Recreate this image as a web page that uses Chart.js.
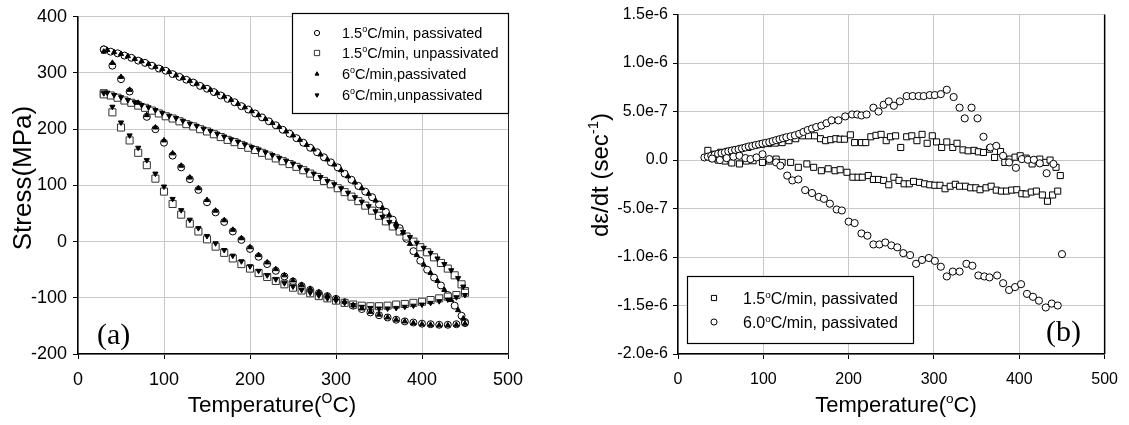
<!DOCTYPE html>
<html>
<head>
<meta charset="UTF-8">
<title>Stress and strain rate vs temperature</title>
<script src="https://cdn.jsdelivr.net/npm/chart.js"></script>
<style>
  body { margin: 0; background: #fff; }
  canvas { position: absolute; top: 0; }
</style>
</head>
<body>
<canvas id="chartA" width="560" height="425" style="left:0"></canvas>
<canvas id="chartB" width="569" height="425" style="left:560px"></canvas>
<script>
// ---------- (a) stress vs temperature, MPa ----------
const upperT = [30,38,46,54,62,70,78,86,94,102,110,118,126,134,142,150,158,166,174,182,190,198,206,214,222,230,238,246,254,262,270,278,286,294,302,310,318,326,334,342,350,358,366,374,382,390,398,406,414,422,430,438,446,450];
const upperTfast = [34,42,50,58,66,74,82,90,98,106,114,122,130,138,146,154,162,170,178,186,194,202,210,218,226,234,242,250,258,266,274,282,290,298,306,314,322,330,338,346,354,362,370,378,386,394,402,410,418,426,434,442,448];
const lowerT = [30,40,50,60,70,80,90,100,110,120,130,140,150,160,170,180,190,200,210,220,230,240,250,260,270,280,290,300,310,320,330,340,350,360,370,380,390,400,410,420,430,440,450];

const slowPassUpper = [342,338,335,331,327,322,318,313,308,304,298,293,288,283,277,272,266,260,254,248,241,235,228,221,214,207,199,192,184,176,167,159,150,141,132,121,110,99,89,79,66,53,39,24,5,-17,-34,-50,-64,-78,-95,-114,-132,-143];
const slowPassLower = [342,313,289,267,244,222,200,176,153,132,111,92,70,52,35,18,3,-13,-27,-40,-52,-62,-71,-79,-86,-92,-97,-102,-108,-114,-120,-126,-131,-135,-139,-142,-144,-146,-147,-148,-148,-147,-145];
const slowUnpUpper = [264,260,256,251,247,242,238,233,228,223,219,214,209,205,200,196,191,186,181,177,172,167,163,158,153,148,143,138,133,127,121,115,108,102,95,88,80,72,64,55,46,36,27,18,9,0,-10,-19,-28,-38,-48,-60,-76,-88];
const slowUnpLower = [262,230,203,180,158,136,112,89,67,48,32,18,4,-9,-20,-30,-40,-48,-56,-63,-70,-76,-82,-87,-92,-97,-101,-105,-109,-112,-114,-115,-115,-114,-112,-111,-109,-107,-104,-101,-98,-95,-91];
const fastPassUpper = [341,337,334,330,325,321,316,311,307,302,296,291,286,281,275,270,264,258,252,245,239,232,225,218,211,204,196,189,181,172,164,155,146,137,127,116,105,95,85,73,60,47,32,16,-4,-24,-41,-56,-70,-86,-104,-122,-137];
const fastPassLower = [338,318,293,270,247,225,203,180,157,135,114,95,74,55,38,21,6,-10,-24,-37,-49,-60,-69,-77,-84,-90,-96,-101,-107,-113,-119,-125,-130,-135,-139,-142,-145,-147,-148,-149,-149,-148,-146];
const fastUnpUpper = [265,261,257,252,248,243,239,234,229,224,220,215,210,206,201,197,192,187,182,178,173,168,164,159,154,149,144,139,133,127,121,115,108,102,95,87,79,71,63,54,44,35,26,17,8,-2,-11,-20,-30,-40,-51,-65,-80];
const fastUnpLower = [264,240,212,189,167,145,121,98,76,56,39,24,10,-3,-15,-25,-35,-44,-52,-60,-67,-74,-80,-86,-91,-96,-101,-105,-109,-113,-116,-118,-119,-119,-118,-116,-114,-112,-109,-106,-103,-99,-95];

const labelsA = ['1.5|C/min, passivated', '1.5|C/min, unpassivated', '6|C/min,passivated', '6|C/min,unpassivated'];

// ---------- (b) strain rate vs temperature, units of 1e-7 1/s ----------
const sqUpT = [35,42,50,58,66,74,82,90,98,106,114,122,130,138,146,153,160,167,173,179,185,190,195,202,207,215,220,226,232,238,244,249,255,261,268,274,280,286,292,298,303,309,315,322,327,334,340,347,352,358,365,371,378,383,389,395,401,408,415,424,431,436,443,448];
const sqUpV = [1.0,0.6,0.8,0.9,1.0,1.2,1.3,1.5,1.6,1.7,1.75,1.8,2.0,2.2,2.5,2.5,2.5,2.2,2.0,2.1,2.2,2.15,2.15,2.6,1.8,1.8,1.8,2.4,2.55,2.65,2.0,2.4,2.5,1.3,2.4,2.5,2.0,2.65,1.73,2.5,1.87,1.3,1.87,1.3,1.73,1.05,0.95,1.0,0.85,0.78,1.12,0.27,0.88,-0.24,0.1,0.3,0.44,0.2,-0.4,0.1,-0.24,0,-0.75,-1.6];
const sqLowT = [40,47,55,63,72,80,88,99,107,115,122,132,141,151,159,168,176,184,190,198,205,211,216,223,229,235,241,247,253,259,265,271,276,283,289,295,301,307,313,319,325,330,337,343,349,354,361,367,373,379,385,391,397,403,408,414,420,427,433,439,445];
const sqLowV = [0.2,0.0,-0.1,-0.3,-0.4,-0.1,-0.07,-0.24,-0.1,0.1,-0.24,-0.24,-0.75,-0.4,-0.75,-1.1,-0.9,-1.1,-1.0,-1.26,-1.77,-1.77,-1.77,-1.6,-2.0,-2.0,-2.1,-2.55,-1.77,-2.1,-2.45,-2.45,-2.2,-2.3,-2.45,-2.55,-2.6,-2.6,-2.96,-2.7,-2.5,-2.7,-2.7,-2.86,-2.86,-3.06,-2.86,-2.7,-3.1,-3.2,-3.2,-3.1,-3.06,-3.47,-3.5,-3.3,-3.2,-3.6,-4.25,-3.6,-3.2];
const ciUpT = [31,35,39,43,47,51,55,59,63,67,71,75,79,83,87,91,95,99,103,107,111,115,119,123,127,132,137,142,147,152,157,162,168,174,180,188,196,204,210,215,221,229,235,241,247,253,260,268,275,282,288,295,301,308,315,323,330,336,344,351,358,366,373,381,388,396,403,410,417,424,432,440];
const ciUpV = [0.27,0.35,0.45,0.55,0.65,0.72,0.8,0.9,0.98,1.05,1.12,1.2,1.3,1.4,1.45,1.55,1.62,1.7,1.78,1.85,1.95,2.05,2.15,2.25,2.35,2.45,2.55,2.7,2.9,3.1,3.25,3.4,3.55,3.8,4.1,4.1,4.5,4.7,4.7,4.6,4.7,5.4,5.0,5.7,6.05,5.6,6.05,6.6,6.6,6.6,6.6,6.7,6.7,6.8,7.25,6.5,5.4,4.3,5.4,4.3,2.4,1.3,1.46,0.44,-0.24,-0.8,0.1,0.03,0.03,-0.34,-1.36,-0.4];
const ciLowT = [40,49,57,65,72,79,85,92,99,107,115,120,128,134,141,149,157,165,171,178,186,192,200,207,215,222,229,236,243,250,257,264,272,279,286,294,301,308,315,322,330,338,345,352,359,365,374,381,388,395,402,409,416,423,431,438,445,450];
const ciLowV = [0.15,0.0,0.2,0.35,0.44,0.2,0.1,0.27,0.6,0.1,-0.24,-0.58,-1.6,-2.1,-2.0,-3.1,-3.4,-3.8,-4.0,-4.5,-5.1,-5.2,-6.35,-6.5,-7.57,-7.8,-8.7,-8.7,-8.5,-8.8,-9.0,-9.6,-9.8,-10.7,-10.3,-10.1,-10.4,-11.0,-12.0,-11.5,-11.5,-10.7,-10.9,-11.9,-12.0,-12.1,-11.9,-12.7,-13.4,-13.1,-12.8,-13.8,-14.1,-14.5,-15.2,-14.8,-15.0,-9.7];

const yTicksB = [-20,-15,-10,-5,0,5,10,15];
const yTickLabelsB = ['-2.0e-6','-1.5e-6','-1.0e-6','-5.0e-7','0.0','5.0e-7','1.0e-6','1.5e-6'];
const labelsB = ['1.5|C/min, passivated', '6.0|C/min, passivated'];

const SANS = '"Liberation Sans", Arial, sans-serif';
const SERIF = '"Liberation Serif", "Times New Roman", serif';

function pts(xs, ys) { return xs.map((x, i) => ({ x: x, y: ys[i] })); }

// text with superscript pieces: parts = [[text, isSup], ...]
function rich(ctx, parts, x, y, size, align) {
  let w = 0;
  parts.forEach(p => {
    ctx.font = (p[1] ? size * 0.62 : size) + 'px ' + SANS;
    w += ctx.measureText(p[0]).width;
  });
  let cx = align === 'center' ? x - w / 2 : x;
  ctx.textAlign = 'left';
  ctx.textBaseline = 'alphabetic';
  parts.forEach(p => {
    const s = p[1] ? size * 0.62 : size;
    ctx.font = s + 'px ' + SANS;
    ctx.fillText(p[0], cx, p[1] ? y - size * 0.4 : y);
    cx += ctx.measureText(p[0]).width;
  });
}

// "1.5|C/min" -> 1.5 + superscript o + C/min
function degParts(label) {
  const s = label.split('|');
  return [[s[0], 0], ['o', 1], [s[1], 0]];
}

function axisCommon(size, pad) {
  return {
    type: 'linear',
    ticks: { color: '#000', font: { family: SANS, size: size }, padding: pad, maxRotation: 0 },
    grid: { color: '#c8c8c8', lineWidth: 1, tickLength: 5, tickColor: '#000' },
    border: { color: '#000', width: 1.5 }
  };
}

const markA = [
  { pointStyle: 'circle', radius: 3.5, rotation: 0, bg: '#fff', fg: '#000' },
  { pointStyle: 'rect', radius: 5, rotation: 0, bg: '#fff', fg: '#333' },
  { pointStyle: 'triangle', radius: 3, rotation: 0, bg: '#000', fg: '#000' },
  { pointStyle: 'triangle', radius: 3, rotation: 180, bg: '#000', fg: '#000' }
];
const seriesA = [
  pts(upperT, slowPassUpper).concat(pts(lowerT, slowPassLower)),
  pts(upperT, slowUnpUpper).concat(pts(lowerT, slowUnpLower)),
  pts(upperTfast, fastPassUpper).concat(pts(lowerT, fastPassLower)),
  pts(upperTfast, fastUnpUpper).concat(pts(lowerT, fastUnpLower))
];

const decorA = {
  id: 'decorA',
  afterDraw(chart) {
    const ctx = chart.ctx, a = chart.chartArea;
    ctx.save();
    ctx.strokeStyle = '#222'; ctx.lineWidth = 1;
    ctx.beginPath(); ctx.moveTo(a.right + 0.5, a.top); ctx.lineTo(a.right + 0.5, a.bottom); ctx.stroke();
    // legend box
    ctx.fillStyle = '#fff';
    ctx.fillRect(292, 13, a.right - 292, 100);
    ctx.strokeStyle = '#000'; ctx.lineWidth = 1.2;
    ctx.strokeRect(292.5, 13.5, a.right - 292, 100);
    const rows = [33, 53, 74, 95];
    labelsA.forEach((lab, i) => {
      const m = markA[i];
      ctx.fillStyle = m.bg; ctx.strokeStyle = m.fg; ctx.lineWidth = 1;
      Chart.helpers.drawPoint(ctx, { pointStyle: m.pointStyle, radius: m.radius * 0.75, rotation: m.rotation, borderWidth: 1 }, 317, rows[i]);
      ctx.fillStyle = '#000';
      rich(ctx, degParts(lab), 342, rows[i] + 5, 14.5, 'left');
    });
    ctx.fillStyle = '#000';
    ctx.font = '30px ' + SERIF; ctx.textAlign = 'left'; ctx.textBaseline = 'alphabetic';
    ctx.fillText('(a)', 97, 344);
    rich(ctx, [['Temperature(', 0], ['O', 1], ['C)', 0]], 272, 412, 22.5, 'center');
    ctx.translate(31, 178); ctx.rotate(-Math.PI / 2);
    rich(ctx, [['Stress(MPa)', 0]], 0, 0, 26, 'center');
    ctx.restore();
  }
};

const xA = axisCommon(18, 10); xA.min = 0; xA.max = 500; xA.ticks.stepSize = 100;
xA.afterFit = s => { s.height = 71; };
const yA = axisCommon(18, 6); yA.min = -200; yA.max = 400; yA.ticks.stepSize = 100;
yA.afterFit = s => { s.width = 78; };

new Chart(document.getElementById('chartA'), {
  type: 'scatter',
  data: {
    datasets: seriesA.map((d, i) => ({
      label: labelsA[i], data: d, showLine: false,
      pointStyle: markA[i].pointStyle, pointRadius: markA[i].radius, pointRotation: markA[i].rotation,
      backgroundColor: markA[i].bg, borderColor: markA[i].fg, borderWidth: 1, order: 4 - i
    }))
  },
  options: {
    responsive: false, animation: false, events: [],
    layout: { padding: { left: 0, top: 13, right: 52, bottom: 0 } },
    plugins: { legend: { display: false }, tooltip: { enabled: false } },
    scales: { x: xA, y: yA }
  },
  plugins: [decorA]
});

const markB = [
  { pointStyle: 'rect', radius: 4.3, bg: '#fff', fg: '#000' },
  { pointStyle: 'circle', radius: 3.6, bg: '#fff', fg: '#000' }
];
const seriesB = [
  pts(sqUpT, sqUpV).concat(pts(sqLowT, sqLowV)),
  pts(ciUpT, ciUpV).concat(pts(ciLowT, ciLowV))
];

const decorB = {
  id: 'decorB',
  afterDraw(chart) {
    const ctx = chart.ctx, a = chart.chartArea;
    const ox = 560; // canvas offset in the page
    ctx.save();
    ctx.strokeStyle = '#000'; ctx.lineWidth = 1.5;
    ctx.beginPath(); ctx.moveTo(a.right, a.top); ctx.lineTo(a.right, a.bottom); ctx.stroke();
    ctx.fillStyle = '#fff';
    ctx.fillRect(687 - ox, 276, 226, 67);
    ctx.strokeStyle = '#000'; ctx.lineWidth = 1.2;
    ctx.strokeRect(687.5 - ox, 276.5, 226, 67);
    const rows = [298, 322];
    labelsB.forEach((lab, i) => {
      const m = markB[i];
      ctx.fillStyle = m.bg; ctx.strokeStyle = m.fg; ctx.lineWidth = 1;
      Chart.helpers.drawPoint(ctx, { pointStyle: m.pointStyle, radius: m.radius * 0.85, rotation: 0, borderWidth: 1 }, 714 - ox, rows[i]);
      ctx.fillStyle = '#000';
      rich(ctx, degParts(lab), 743 - ox, rows[i] + 6, 16, 'left');
    });
    ctx.fillStyle = '#000';
    ctx.font = '30px ' + SERIF; ctx.textAlign = 'left'; ctx.textBaseline = 'alphabetic';
    ctx.fillText('(b)', 1046 - ox, 341);
    rich(ctx, [['Temperature(', 0], ['o', 1], ['C)', 0]], 896 - ox, 412, 22, 'center');
    ctx.translate(608 - ox, 175); ctx.rotate(-Math.PI / 2);
    rich(ctx, [['d\u03b5/dt (sec', 0], ['-1', 1], [')', 0]], 0, 0, 24, 'center');
    ctx.restore();
  }
};

const xB = axisCommon(16, 11); xB.min = 0; xB.max = 500; xB.ticks.stepSize = 100;
xB.afterFit = s => { s.height = 71; };
const yB = axisCommon(16, 5); yB.min = -20; yB.max = 15; yB.ticks.stepSize = 5;
yB.ticks.callback = v => yTickLabelsB[yTicksB.indexOf(v)];
yB.afterFit = s => { s.width = 118; };

new Chart(document.getElementById('chartB'), {
  type: 'scatter',
  data: {
    datasets: seriesB.map((d, i) => ({
      label: labelsB[i], data: d, showLine: false,
      pointStyle: markB[i].pointStyle, pointRadius: markB[i].radius,
      backgroundColor: markB[i].bg, borderColor: markB[i].fg, borderWidth: 1, order: 2 - i
    }))
  },
  options: {
    responsive: false, animation: false, events: [],
    layout: { padding: { left: 0, top: 13, right: 21, bottom: 0 } },
    plugins: { legend: { display: false }, tooltip: { enabled: false } },
    scales: { x: xB, y: yB }
  },
  plugins: [decorB]
});
</script>
</body>
</html>
